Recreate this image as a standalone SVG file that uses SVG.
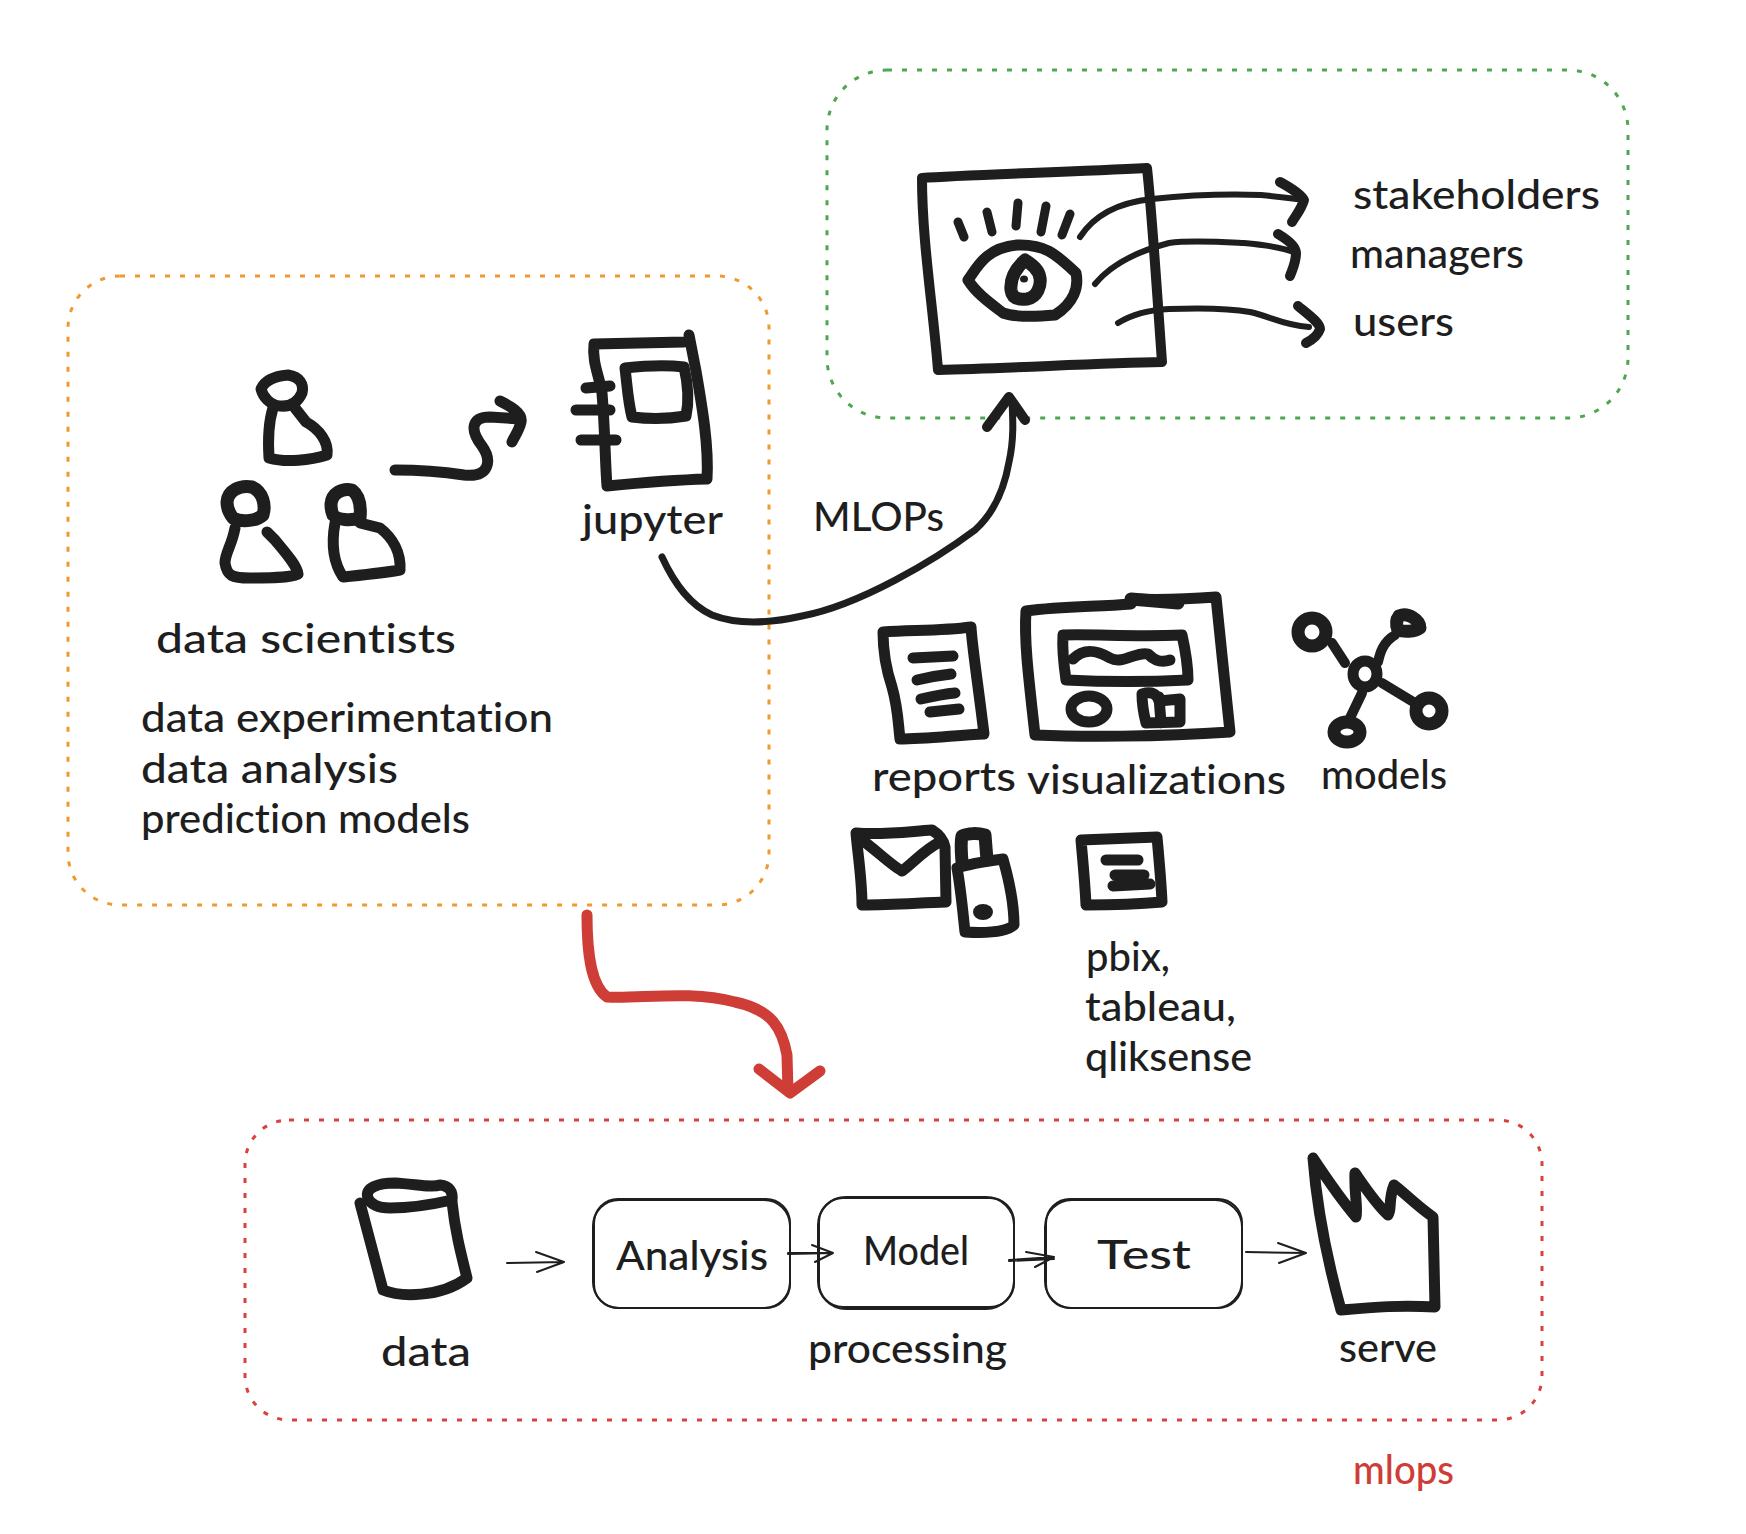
<svg xmlns="http://www.w3.org/2000/svg" width="1746" height="1534" viewBox="0 0 1746 1534">
<style>
text{font-family:"Lato","Open Sans","Liberation Sans",sans-serif;font-size:40px;font-weight:500;fill:#1e1e1e;font-variant-ligatures:none}
.red{fill:#ce3d36}
.ink{fill:none;stroke:#1e1e1e;stroke-width:11;stroke-linecap:round;stroke-linejoin:round}
.heavy{stroke-width:13}
.doc{stroke-width:10}
.mid{stroke-width:6}
.head{stroke-width:10}
.lash{stroke-width:9}
.cap{stroke-width:13}
.thin{stroke-width:2}
.dot{fill:#1e1e1e}
.zone{fill:none;stroke-width:3;stroke-dasharray:5 10}
.redline{stroke:#ce3d36}
</style>
<rect width="1746" height="1534" fill="#ffffff"/>
<g id="zones">
<rect id="zone-orange" class="zone" x="68" y="276" width="701" height="629" rx="52" stroke="#ee9a2e"/>
<rect id="zone-green" class="zone" x="827" y="70" width="801" height="348" rx="60" stroke="#4ea651"/>
<rect id="zone-red" class="zone" x="245" y="1120" width="1297" height="300" rx="44" stroke="#d9413f"/>
</g>
<g id="person-top">
<path class="ink" d="M261 389C265 380 276 376 288 375C300 377 304 384 302 393C298 402 291 407 280 406C270 405 263 397 261 389Z"/>
<path class="ink" d="M273 408C268 424 268 442 269 458C286 463 311 460 327 455C329 442 319 429 306 422L295 408"/>
</g>
<g id="person-left">
<path class="ink heavy" d="M227 502C228 490 240 485 252 487C263 492 266 505 263 515C255 522 240 522 233 518C229 513 227 508 227 502Z"/>
<path class="ink" d="M235 528C232 545 225 553 225 563C227 576 232 578 250 578C270 578 290 578 298 574C297 565 283 550 275 540L267 532"/>
</g>
<g id="person-right">
<path class="ink cap" d="M331 504C332 493 342 488 352 490C360 496 361 508 360 518C350 521 338 520 333 515C331 511 331 508 331 504Z"/>
<path class="ink" d="M335 523C331 545 333 562 343 577C362 575 383 573 400 570C401 553 393 538 380 528L360 523"/>
</g>
<g id="notebook">
<path class="ink" d="M684 342L594 344C592 362 599 375 602 393C605 429 605 460 607 486C638 483 673 480 707 479C709 446 702 406 696 371L689 335"/>
<path class="ink" d="M586 388L610 386M576 410L610 410M581 440L616 440"/>
<path class="ink" d="M625 368C643 366 668 365 684 367C688 384 689 402 686 416C668 419 648 419 632 417C628 402 627 384 625 368Z"/>
</g>
<g id="dashboard-eye">
<path class="ink doc" d="M922 178C963 175 1071 172 1147 168C1152 213 1158 307 1162 362C1098 363 1017 368 938 370C933 307 922 240 922 178Z"/>
<path class="ink lash" d="M958 222L964 237M987 212L992 232M1018 203L1016 226M1046 206L1041 232M1070 214L1062 235"/>
<path class="ink" d="M968 280C976 270 984 248 1017 245C1044 244 1055 253 1076 273C1079 287 1074 303 1055 315C1033 317 1014 317 1003 313C990 303 976 293 968 280Z"/>
<path class="ink cap" d="M1025 260C1014 270 1010 280 1011 290C1012 298 1018 300 1027 299C1038 297 1041 285 1040 278C1039 270 1033 265 1025 260Z"/>
<ellipse class="dot" cx="1024" cy="279" rx="4" ry="3.5"/>
</g>
<g id="report">
<path class="ink" d="M883 632C913 630 942 631 971 627C972 646 978 684 984 734C959 735 925 739 900 739C898 722 898 708 892 687C885 666 883 649 883 632Z"/>
<path class="ink" d="M913 658L953 656M917 680C929 677 942 675 951 674M921 699C934 696 944 694 955 693M930 712L959 709"/>
</g>
<g id="visualization">
<path class="ink" d="M1026 611C1024 639 1028 673 1035 735C1081 737 1157 737 1230 732C1226 691 1220 639 1216 597C1190 599 1157 600 1131 599M1026 611C1064 606 1098 607 1131 604"/>
<path class="ink heavy" d="M1131 599L1178 603"/>
<path class="ink" d="M1063 635C1094 634 1136 637 1182 635C1186 653 1188 666 1188 680C1148 682 1106 682 1066 680C1064 666 1062 649 1063 635Z"/>
<path class="ink" d="M1073 659C1085 647 1098 651 1110 658C1123 665 1136 651 1148 654C1155 661 1161 663 1170 660"/>
<ellipse class="ink" cx="1089" cy="709" rx="18" ry="13"/>
<path class="ink" d="M1142 694C1152 691 1157 694 1159 701L1180 699L1180 722L1146 723C1144 715 1142 704 1142 694ZM1159 697L1161 723"/>
</g>
<g id="model-graph">
<ellipse class="ink" cx="1365" cy="674" rx="12" ry="13"/>
<ellipse class="ink cap" cx="1312" cy="632" rx="14" ry="14"/>
<path class="ink cap" d="M1399 616C1408 612 1420 620 1420 628C1415 632 1403 632 1398 630C1396 625 1396 620 1399 616Z"/>
<ellipse class="ink cap" cx="1429" cy="711" rx="13" ry="13"/>
<ellipse class="ink cap" cx="1347" cy="732" rx="13" ry="10"/>
<path class="ink" style="stroke-width:10" d="M1332 643L1345 663M1395 635C1383 642 1380 653 1378 662M1382 683L1415 703M1362 693L1350 718"/>
</g>
<g id="envelope">
<path class="ink" d="M856 833C883 835 904 832 932 830C940 835 944 842 945 847L946 902C917 903 892 905 862 905C862 880 858 856 856 833Z"/>
<path class="ink" d="M858 837C875 849 892 866 902 871C913 863 925 849 940 842"/>
</g>
<g id="usb">
<path class="ink cap" d="M962 862C961 850 961 840 962 836C968 833 978 833 985 835L987 860"/>
<path class="ink" d="M957 868C972 863 988 861 1003 859C1009 880 1014 904 1014 925C1005 933 980 933 965 932C963 914 961 890 957 868Z"/>
<ellipse class="dot" cx="983" cy="912" rx="10" ry="8"/>
</g>
<g id="small-doc">
<path class="ink" d="M1081 840C1106 839 1131 838 1157 837C1159 859 1161 880 1162 902C1140 904 1110 905 1086 905C1085 883 1083 863 1081 840Z"/>
<path class="ink" d="M1106 860L1138 860M1115 875L1144 875M1113 886L1150 884"/>
</g>
<g id="cylinder">
<path class="ink" d="M368 1198C364 1188 378 1183 395 1183C415 1184 432 1188 440 1185C450 1186 453 1192 452 1200C430 1205 405 1208 390 1208C378 1208 370 1204 368 1198Z"/>
<path class="ink" d="M360 1203L383 1290C400 1297 440 1298 467 1278C460 1250 455 1230 452 1202"/>
</g>
<g id="box-analysis">
<rect class="ink thin" x="594" y="1199" width="196" height="109" rx="24"/>
<rect class="ink thin" x="593" y="1200" width="197" height="108" rx="26"/>
</g>
<g id="box-model">
<rect class="ink thin" x="819" y="1198" width="195" height="109" rx="24"/>
<rect class="ink thin" x="818" y="1197" width="196" height="112" rx="28"/>
</g>
<g id="box-test">
<rect class="ink thin" x="1046" y="1199" width="196" height="109" rx="24"/>
<rect class="ink thin" x="1045" y="1200" width="197" height="108" rx="27"/>
</g>
<g id="serve-icon">
<path class="ink" d="M1313 1158C1317 1210 1328 1263 1341 1310C1375 1307 1401 1305 1435 1307L1433 1217C1418 1207 1401 1190 1394 1185C1388 1200 1392 1210 1388 1215C1375 1203 1362 1183 1355 1173C1354 1193 1358 1207 1356 1217C1341 1200 1323 1173 1313 1158Z"/>
</g>
<g id="connectors">
<path class="ink" d="M395 470C418 470 444 472 464 475C490 478 492 460 482 446C469 429 472 417 490 417L520 419M500 401C510 406 523 413 521 422C519 431 514 437 512 442"/>
<path class="ink" style="stroke-width:7" d="M662 557C675 585 690 605 712 615C740 626 775 622 802 616C860 605 935 560 975 530C995 512 1005 485 1009 462C1014 440 1013 420 1012 402"/>
<path class="ink head" d="M987 427L1009 397L1025 420"/>
<path class="ink mid" d="M1080 237C1093 217 1114 203 1152 199C1190 195 1234 194 1261 195C1282 197 1296 199 1304 200"/>
<path class="ink head" d="M1280 182C1291 188 1301 195 1304 200C1301 210 1296 215 1292 222"/>
<path class="ink mid" d="M1095 284C1109 267 1131 253 1169 243C1190 240 1223 242 1244 243C1266 245 1285 248 1296 253"/>
<path class="ink head" d="M1278 234C1288 240 1296 247 1296 253C1296 263 1292 270 1290 276"/>
<path class="ink mid" d="M1118 323C1131 315 1147 310 1169 309C1196 308 1228 308 1250 312C1272 317 1282 325 1309 327"/>
<path class="ink head" d="M1298 306C1309 315 1320 323 1320 329C1318 335 1312 340 1306 343"/>
<path class="ink redline" d="M587 915C587 950 590 985 607 997C640 999 690 990 735 1002C772 1010 782 1028 787 1055L788 1091M759 1069L790 1093L820 1071"/>
<path class="ink thin" d="M507 1263L564 1262M536 1252L564 1262L537 1272"/>
<path class="ink thin" d="M788 1254L833 1253M788 1253L833 1253M812 1245L833 1253L815 1262"/>
<path class="ink thin" d="M1009 1260L1054 1257M1009 1261L1054 1259M1026 1252L1054 1257L1035 1267"/>
<path class="ink thin" d="M1246 1252L1306 1253M1278 1243L1306 1253L1279 1263"/>
</g>
<g id="labels">
<text x="156" y="653" textLength="300" lengthAdjust="spacingAndGlyphs">data scientists</text>
<text x="141" y="732" textLength="412" lengthAdjust="spacingAndGlyphs">data experimentation</text>
<text x="141" y="783" textLength="257" lengthAdjust="spacingAndGlyphs">data analysis</text>
<text x="141" y="833" textLength="329" lengthAdjust="spacingAndGlyphs">prediction models</text>
<text x="582" y="534" textLength="141" lengthAdjust="spacingAndGlyphs">jupyter</text>
<text x="813" y="531" textLength="131" lengthAdjust="spacingAndGlyphs">MLOPs</text>
<text x="1353" y="209" textLength="247" lengthAdjust="spacingAndGlyphs">stakeholders</text>
<text x="1350" y="268" textLength="174" lengthAdjust="spacingAndGlyphs">managers</text>
<text x="1353" y="336" textLength="101" lengthAdjust="spacingAndGlyphs">users</text>
<text x="872" y="791" textLength="144" lengthAdjust="spacingAndGlyphs">reports</text>
<text x="1027" y="794" textLength="259" lengthAdjust="spacingAndGlyphs">visualizations</text>
<text x="1321" y="789" textLength="126" lengthAdjust="spacingAndGlyphs">models</text>
<text x="1086" y="971" textLength="84" lengthAdjust="spacingAndGlyphs">pbix,</text>
<text x="1085" y="1021" textLength="151" lengthAdjust="spacingAndGlyphs">tableau,</text>
<text x="1085" y="1071" textLength="167" lengthAdjust="spacingAndGlyphs">qliksense</text>
<text x="616" y="1270" textLength="152" lengthAdjust="spacingAndGlyphs">Analysis</text>
<text x="863" y="1265" textLength="106" lengthAdjust="spacingAndGlyphs">Model</text>
<text x="1097" y="1269" textLength="94" lengthAdjust="spacingAndGlyphs">Test</text>
<text x="381" y="1366" textLength="90" lengthAdjust="spacingAndGlyphs">data</text>
<text x="808" y="1363" textLength="199" lengthAdjust="spacingAndGlyphs">processing</text>
<text x="1339" y="1362" textLength="98" lengthAdjust="spacingAndGlyphs">serve</text>
<text class="red" x="1353" y="1484" textLength="101" lengthAdjust="spacingAndGlyphs">mlops</text>
</g>
</svg>
